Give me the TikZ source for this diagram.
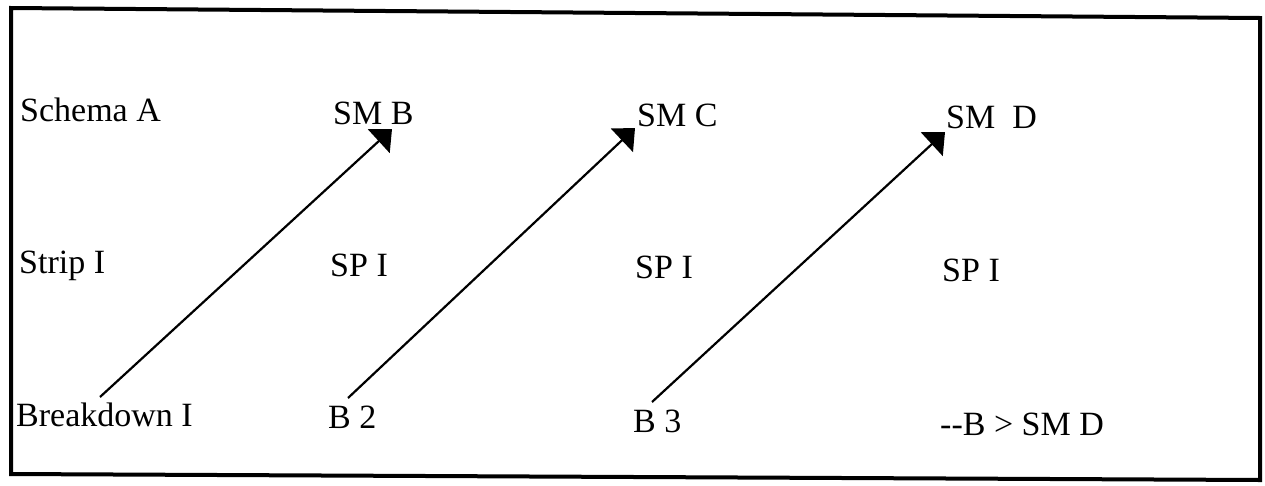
\documentclass[tikz,border=0pt]{standalone}
\usepackage{fontspec}
\setmainfont{Liberation Serif}
\usetikzlibrary{arrows.meta, positioning}

\begin{document}
\begin{tikzpicture}[x=1pt, y=-1pt,
        entry/.style={anchor=base west, inner sep=0pt, font=\fontsize{34}{40}\selectfont},
        link/.style={-{Triangle[length=18pt, width=32pt]}, line width=2.2pt}]
        \useasboundingbox (0,0) rectangle (1265,485);

        % Frame
        \draw[line width=4pt, line join=miter] (11,8) -- (1260,18) -- (1260,480) -- (11,474) -- cycle;

        % Row names
        \node[entry] (schema) at (20,121) {Schema A};
        \node[entry] (strip) at (19,273) {Strip I};
        \node[entry] (bd) at (16,426) {Breakdown I};

        % Columns
        \node[entry] (smb) at (333,124) {SM B};
        \node[entry] (spa) at (330,276) {SP I};
        \node[entry] (b2) at (328,428) {B 2};

        \node[entry] (smc) at (637,126) {SM C};
        \node[entry] (spb) at (635,278) {SP I};
        \node[entry] (b3) at (633,432) {B 3};

        \node[entry] (smd) at (946,128) {SM\ \ D};
        \node[entry] (spc) at (942,281) {SP I};
        \node[entry] (res) at (940,435) {-{}-B > SM D};

        % Arrows
        \draw[link] ([xshift=84pt, yshift=29pt]bd.base west) -- ([xshift=59pt, yshift=-5pt]smb.base west);
        \draw[link] ([xshift=20pt, yshift=30pt]b2.base west) -- ([xshift=-2pt, yshift=-2pt]smc.base west);
        \draw[link] ([xshift=19pt, yshift=30pt]b3.base west) -- ([xshift=-1pt, yshift=-4pt]smd.base west);
    \end{tikzpicture}
\end{document}
